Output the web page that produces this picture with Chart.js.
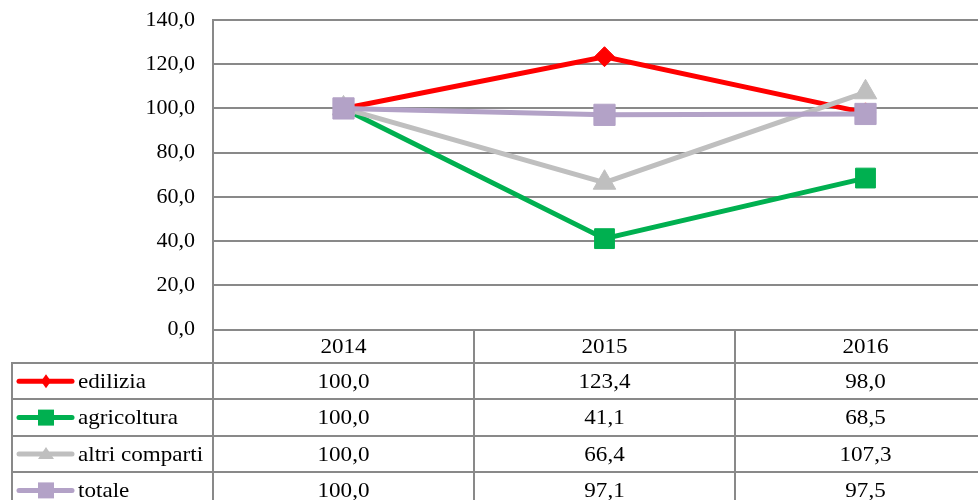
<!DOCTYPE html>
<html>
<head>
<meta charset="utf-8">
<script src="https://cdn.jsdelivr.net/npm/chart.js@4/dist/chart.umd.min.js"></script>
<style>
  html, body { margin: 0; padding: 0; overflow: hidden; background: #fff; }
  #wrap { width: 1012px; height: 500px; }
</style>
</head>
<body>
<div id="wrap"><canvas id="c" width="1012" height="500"></canvas></div>
<script>
// Data
const years = ['2014', '2015', '2016'];
const seriesNames = ['edilizia', 'agricoltura', 'altri comparti', 'totale'];
const edilizia = [100.0, 123.4, 98.0];
const agricoltura = [100.0, 41.1, 68.5];
const altriComparti = [100.0, 66.4, 107.3];
const totale = [100.0, 97.1, 97.5];
const yMin = 0, yMax = 140, yStep = 20;

const seriesData = [edilizia, agricoltura, altriComparti, totale];
const colors = ['#ff0000', '#00b050', '#bfbfbf', '#b3a2c7'];
const styles = ['rectRot', 'rect', 'triangle', 'rect'];
const radii = [10, 14, 13, 15];

const FONT = "'Liberation Serif', 'Times New Roman', serif";
const GRID = '#898989';
const fmt = v => v.toFixed(1).replace('.', ',');

// small marker for the legend keys inside the table
function drawKey(ctx, style, x, y, color) {
  ctx.fillStyle = color;
  ctx.beginPath();
  if (style === 'rectRot') {
    ctx.moveTo(x, y - 7); ctx.lineTo(x + 5, y); ctx.lineTo(x, y + 7); ctx.lineTo(x - 5, y);
  } else if (style === 'triangle') {
    ctx.moveTo(x, y - 7); ctx.lineTo(x + 8, y + 5); ctx.lineTo(x - 8, y + 5);
  } else {
    ctx.rect(x - 8, y - 8, 16, 16);
  }
  ctx.closePath();
  ctx.fill();
}

// text a bit wider than the plain font, like the reference
function wideText(ctx, txt, x, y, align) {
  const sx = 1.1;
  const w = ctx.measureText(txt).width * sx;
  let left = x;
  if (align === 'center') left = x - w / 2;
  ctx.save();
  ctx.translate(left, y);
  ctx.scale(sx, 1);
  ctx.textAlign = 'left';
  ctx.fillText(txt, 0, 0);
  ctx.restore();
}

// data table under the plot, drawn from the same arrays
const dataTable = {
  id: 'dataTable',
  afterDraw(chart) {
    const ctx = chart.ctx;
    const area = chart.chartArea;
    const xs = chart.scales.x;
    const step = xs.getPixelForValue(1) - xs.getPixelForValue(0);
    const headerH = 33.5, rowH = 36.4, tableLeft = 12;
    const right = area.right;
    const bottom = chart.height;

    ctx.save();
    ctx.strokeStyle = GRID;
    ctx.lineWidth = 2;
    // column dividers
    for (let i = 0; i <= years.length; i++) {
      const xp = Math.round(area.left + i * step);
      ctx.beginPath(); ctx.moveTo(xp, area.bottom); ctx.lineTo(xp, bottom); ctx.stroke();
    }
    // row lines + left border
    const firstRow = area.bottom + headerH;
    ctx.beginPath(); ctx.moveTo(tableLeft, firstRow - 1); ctx.lineTo(tableLeft, bottom); ctx.stroke();
    for (let r = 0; r < seriesNames.length; r++) {
      const yp = Math.round(firstRow + r * rowH);
      ctx.beginPath(); ctx.moveTo(tableLeft - 1, yp); ctx.lineTo(right, yp); ctx.stroke();
    }

    ctx.font = '21px ' + FONT;
    ctx.fillStyle = '#000';
    ctx.textBaseline = 'middle';
    years.forEach((yr, i) => {
      wideText(ctx, yr, xs.getPixelForValue(i), area.bottom + headerH / 2 + 1, 'center');
    });

    seriesNames.forEach((name, r) => {
      const cy = firstRow + r * rowH + rowH / 2;
      // legend key
      ctx.strokeStyle = colors[r];
      ctx.lineWidth = 5;
      ctx.lineCap = 'round';
      ctx.beginPath(); ctx.moveTo(19, cy); ctx.lineTo(72, cy); ctx.stroke();
      drawKey(ctx, styles[r], 46, cy, colors[r]);
      ctx.fillStyle = '#000';
      wideText(ctx, name, 78, cy + 1, 'left');
      seriesData[r].forEach((v, i) => {
        wideText(ctx, fmt(v), xs.getPixelForValue(i), cy + 1, 'center');
      });
    });
    ctx.restore();
  }
};

new Chart(document.getElementById('c'), {
  type: 'line',
  data: {
    labels: years,
    datasets: seriesNames.map((name, i) => ({
      label: name,
      data: seriesData[i],
      borderColor: colors[i],
      backgroundColor: colors[i],
      borderWidth: 5,
      pointStyle: styles[i],
      pointRadius: radii[i],
      pointHoverRadius: radii[i],
      pointBorderWidth: 1,
      pointBorderColor: colors[i],
      pointBackgroundColor: colors[i],
      tension: 0,
      order: seriesNames.length - i
    }))
  },
  plugins: [dataTable],
  options: {
    responsive: false,
    animation: false,
    events: [],
    layout: { padding: { top: 20, right: 4, bottom: 170.5, left: 0 } },
    plugins: { legend: { display: false }, tooltip: { enabled: false } },
    scales: {
      x: {
        type: 'category',
        offset: true,
        grid: { display: false, drawTicks: false },
        border: { display: true, color: GRID, width: 2 },
        ticks: { display: false }
      },
      y: {
        min: yMin,
        max: yMax,
        afterFit: s => { s.width = 213; s.paddingTop = 0; s.paddingBottom = 0; },
        grid: { color: GRID, lineWidth: 2, drawTicks: false },
        border: { display: true, color: GRID, width: 2 },
        ticks: {
          stepSize: yStep,
          padding: 18,
          color: '#000',
          font: { family: FONT, size: 22 },
          callback: v => fmt(v)
        }
      }
    }
  }
});
</script>
</body>
</html>
